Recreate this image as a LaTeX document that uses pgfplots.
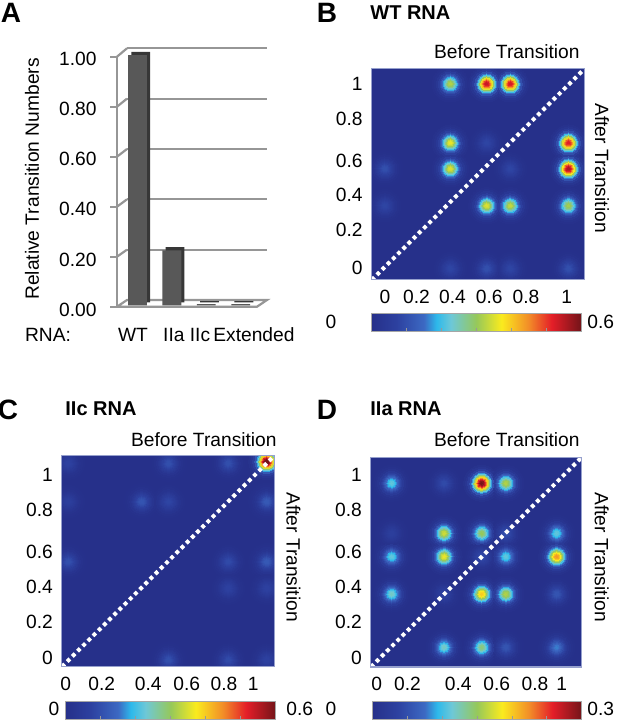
\documentclass[border=0pt]{standalone}
\usepackage{pgfplots}
\usepackage{pgfplotstable}
\pgfplotsset{compat=1.18}
\usepackage{fontspec}
\setmainfont{Liberation Sans}
\definecolor{cbg}{RGB}{38,48,138}
\definecolor{boxc}{RGB}{150,160,205}
\definecolor{gridc}{RGB}{150,150,150}
\definecolor{barf}{RGB}{88,88,88}
\definecolor{bars}{RGB}{55,55,55}
\newcommand\tck{\fontsize{9.6}{11}\selectfont}
\newcommand\lbl{\fontsize{9.6}{11}\selectfont}
\pgfplotsset{colormap={myjet}{rgb255(0cm)=(38,48,138); rgb255(1.2cm)=(45,65,160); rgb255(2.5cm)=(60,105,195); rgb255(3.1cm)=(45,185,235); rgb255(3.8cm)=(110,200,215); rgb255(5cm)=(150,200,90); rgb255(6.2cm)=(250,235,30); rgb255(7.5cm)=(242,140,40); rgb255(8.6cm)=(228,30,40); rgb255(10cm)=(115,20,25)}}

\pgfplotstableread{
x y v
0.36 1.00 0.32
0.56 1.00 0.54
0.69 1.00 0.53
0.36 0.68 0.36
0.56 0.68 0.08
1.01 0.68 0.52
0.00 0.54 0.10
0.36 0.54 0.35
0.69 0.54 0.08
1.01 0.54 0.56
0.00 0.34 0.08
0.56 0.34 0.35
0.69 0.34 0.33
1.01 0.34 0.31
0.36 0.00 0.08
0.56 0.00 0.10
0.69 0.00 0.08
1.01 0.00 0.10
}\tabB

\pgfplotstableread{
x y v
1.076 1.073 0.62
0.014 1.064 0.07
0.55 1.064 0.10
0.87 1.064 0.10
0.014 0.855 0.06
0.407 0.855 0.11
0.55 0.855 0.08
1.076 0.855 0.12
0.014 0.527 0.10
0.87 0.527 0.09
1.076 0.527 0.12
0.87 0.382 0.07
1.076 0.382 0.07
0.55 -0.009 0.10
0.87 -0.009 0.09
1.076 -0.009 0.07
}\tabC

\pgfplotstableread{
x y v
0.081 0.955 0.11
0.364 0.955 0.045
0.568 0.955 0.30
0.699 0.955 0.16
0.081 0.682 0.03
0.364 0.682 0.17
0.568 0.682 0.15
0.699 0.682 0.05
0.973 0.682 0.11
0.081 0.555 0.11
0.364 0.555 0.18
0.568 0.555 0.045
0.699 0.555 0.11
0.973 0.555 0.22
0.081 0.351 0.12
0.364 0.351 0.035
0.568 0.351 0.20
0.699 0.351 0.16
0.973 0.351 0.055
0.364 0.06 0.12
0.568 0.06 0.14
0.699 0.06 0.055
0.973 0.06 0.08
}\tabD

\newcommand{\blob}[3]{\addplot[scatter, only marks, mark=*, mark size=#2, point meta={\thisrow{v}*#3}, scatter/use mapped color={draw=mapped color,fill=mapped color}, mark options={line width=0pt}] table[x=x,y=y] {#1};}
\newcommand{\blobs}[1]{\blob{#1}{9pt}{0.0181}\blob{#1}{8pt}{0.0439}\blob{#1}{7pt}{0.0957}\blob{#1}{6pt}{0.1862}\blob{#1}{5pt}{0.2856}\blob{#1}{4.5pt}{0.3666}\blob{#1}{4pt}{0.4578}\blob{#1}{3.5pt}{0.5561}\blob{#1}{3pt}{0.6570}\blob{#1}{2.5pt}{0.7548}\blob{#1}{2pt}{0.8436}\blob{#1}{1.5pt}{0.9169}\blob{#1}{1pt}{0.9692}\blob{#1}{0.5pt}{0.9965}}

\pgfplotsset{hm/.style={
 scale only axis, axis on top,
 axis background/.style={fill=cbg},
 colormap name=myjet, point meta min=0,
 clip marker paths=true,
 axis line style={draw=boxc, line width=0.5pt},
 major tick length=0pt,
 tick label style={font=\tck, inner sep=0pt},
 xticklabel style={anchor=center, yshift=-8.35pt},
 yticklabel style={anchor=east, xshift=-4.35pt},
 xticklabels={0,0.2,0.4,0.6,0.8,1}, yticklabels={0,0.2,0.4,0.6,0.8,1},
 ytick={0,0.2,0.39,0.58,0.81,1},
 colorbar horizontal,
 colorbar style={at={(parent axis.south west)}, anchor=north west, scale only axis, height=8.65pt, xtick pos=left, xtick align=inside, major tick length=1.5pt, tick style={draw=gray!80, line width=0.4pt}, xticklabels={}, axis line style={draw=gray!70, line width=0.4pt}},
}}

\begin{document}
\begin{tikzpicture}
\useasboundingbox (0,0) rectangle (311pt,362.5pt);

% ---------- Panel A decorations (pixel coordinates)
\begin{scope}[x=0.5pt, y=-0.5pt, yshift=362.5pt]
\foreach \v in {0.2,0.4,0.6,0.8,1.0}{
  \draw[gridc, line width=1.1pt] (127,{300-251.7*\v}) -- (267,{300-251.7*\v});
  \draw[gridc, line width=1.1pt] (117,{306.7-250*\v}) -- (127,{300-251.7*\v});
  \draw[gridc, line width=1.1pt] (110,{306.7-250*\v}) -- (117,{306.7-250*\v});
}
\draw[gridc, line width=1.1pt, fill=white] (117,306.7) -- (127,300) -- (267,300) -- (257,306.7) -- cycle;
\draw[gridc, line width=1.1pt] (110,306.7) -- (117,306.7);
\draw[gridc, line width=1.1pt] (117,306.7) -- (117,56.7);
\node[rotate=90, font=\lbl, inner sep=0pt] at (32,179) {Relative Transition Numbers};
\node[font=\lbl, inner sep=0pt] at (48,335) {RNA:};
\node[font=\lbl, inner sep=0pt] at (133,335) {WT};
\node[font=\lbl, inner sep=0pt] at (186.7,335) {IIa IIc};
\node[font=\lbl, inner sep=0pt, anchor=west] at (213,335) {Extended};
% panel letters and titles
\node[font=\bfseries\fontsize{14}{14}\selectfont, inner sep=0pt] at (11,13) {A};
\node[font=\bfseries\fontsize{14}{14}\selectfont, inner sep=0pt] at (327,13) {B};
\node[font=\bfseries\fontsize{14}{14}\selectfont, inner sep=0pt] at (8,410) {C};
\node[font=\bfseries\fontsize{14}{14}\selectfont, inner sep=0pt] at (327,410) {D};
\node[font=\bfseries\fontsize{10}{10}\selectfont, inner sep=0pt, anchor=west] at (370,13) {WT RNA};
\node[font=\bfseries\fontsize{10}{10}\selectfont, inner sep=0pt, anchor=west] at (65,409) {IIc RNA};
\node[font=\bfseries\fontsize{10}{10}\selectfont, inner sep=0pt, anchor=west] at (370,409) {IIa RNA};
\node[font=\lbl, inner sep=0pt, anchor=east] at (580,52) {Before Transition};
\node[font=\lbl, inner sep=0pt, anchor=east] at (277,440) {Before Transition};
\node[font=\lbl, inner sep=0pt, anchor=east] at (580,440) {Before Transition};
\node[font=\lbl, inner sep=0pt, rotate=-90] at (602,168) {After Transition};
\node[font=\lbl, inner sep=0pt, rotate=-90] at (293.5,557) {After Transition};
\node[font=\lbl, inner sep=0pt, rotate=-90] at (601.7,557) {After Transition};
\node[font=\tck, inner sep=0pt] at (331,321.5) {0};
\node[font=\tck, inner sep=0pt, anchor=west] at (587,321.5) {0.6};
\node[font=\tck, inner sep=0pt] at (54,709) {0};
\node[font=\tck, inner sep=0pt, anchor=west] at (286,709) {0.6};
\node[font=\tck, inner sep=0pt] at (331,709) {0};
\node[font=\tck, inner sep=0pt, anchor=west] at (587,709) {0.3};
\end{scope}

% ---------- Panel A bars
\begin{axis}[at={(60.15pt,209.75pt)}, anchor=south west, scale only axis,
  width=68.8pt, height=125.25pt, xmin=-0.5, xmax=3.5, ymin=0, ymax=1,
  axis line style={draw=none}, major tick length=0pt, xtick=\empty,
  ytick={0,0.2,0.4,0.6,0.8,1},
  /pgf/number format/fixed, /pgf/number format/fixed zerofill,
  /pgf/number format/precision=2, /pgf/number format/assume math mode=true,
  yticklabel style={anchor=east, xshift=-11.65pt, yshift=-2pt, font=\tck, inner sep=0pt},
  clip=false, bar width=9.4pt]
\addplot[ybar, bar shift=0pt, fill=bars, draw=none, xshift=1.6pt, yshift=1.6pt] coordinates {(0,1.00) (1,0.22) (2,0.005) (3,0.005)};
\addplot[ybar, bar shift=0pt, fill=barf, draw=none] coordinates {(0,1.00) (1,0.22) (2,0.005) (3,0.005)};
\end{axis}

% ---------- Panel B
\begin{axis}[hm, at={(185.85pt,222.5pt)}, anchor=south west, width=106.65pt, height=105.85pt,
  xmin=-0.073, xmax=1.101, ymin=-0.063, ymax=1.085,
  xtick={0,0.174,0.372,0.574,0.776,1}, ytick={0,0.207,0.396,0.585,0.811,1},
  point meta max=0.6,
  colorbar style={width=104.65pt, yshift=-8.35pt, xtick={0.1,0.2,0.3,0.4,0.5}}]
\blobs{\tabB}
\addplot[white, line width=2pt, dash pattern=on 1.9pt off 1.75pt] coordinates {(-0.073,-0.063) (1.101,1.085)};
\end{axis}

% ---------- Panel C
\begin{axis}[hm, at={(31pt,29.15pt)}, anchor=south west, width=106.5pt, height=105.85pt,
  xmin=-0.02, xmax=1.12, ymin=-0.046, ymax=1.109,
  xtick={0,0.193,0.442,0.648,0.847,1.004},
  point meta max=0.6,
  colorbar style={width=105pt, height=9pt, xshift=1.85pt, yshift=-8.65pt, xtick={0.1,0.2,0.3,0.4,0.5}}]
\blobs{\tabC}
\addplot[white, line width=2pt, dash pattern=on 1.9pt off 1.75pt] coordinates {(-0.02,-0.046) (1.12,1.109)};
\end{axis}

% ---------- Panel D
\begin{axis}[hm, at={(185.5pt,29pt)}, anchor=south west, width=105.5pt, height=105pt,
  xmin=-0.031, xmax=1.11, ymin=-0.047, ymax=1.098,
  xtick={0,0.166,0.441,0.649,0.856,1},
  point meta max=0.3,
  colorbar style={width=104.7pt, height=9pt, xshift=0.65pt, yshift=-8.5pt, xtick={0.05,0.1,0.15,0.2,0.25}}]
\blobs{\tabD}
\addplot[white, line width=2pt, dash pattern=on 1.9pt off 1.75pt] coordinates {(-0.031,-0.047) (1.11,1.098)};
\end{axis}
\end{tikzpicture}
\end{document}
